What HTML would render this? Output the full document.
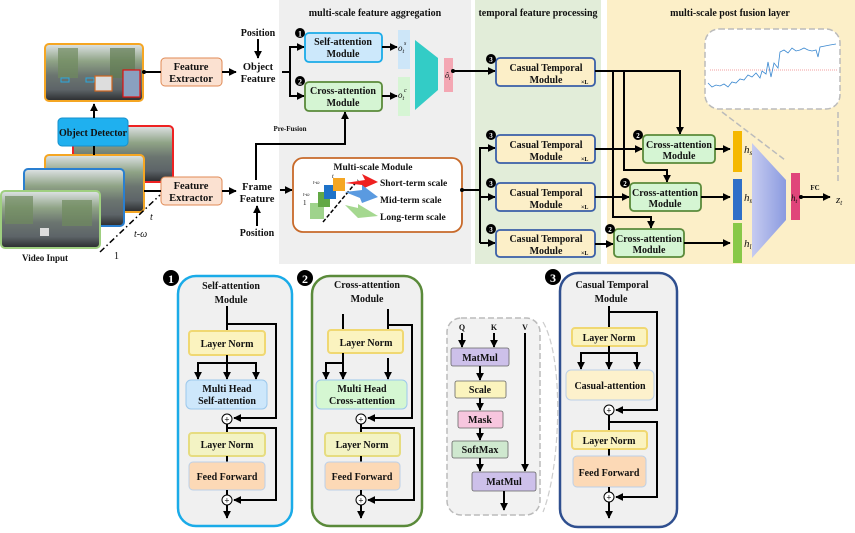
<!DOCTYPE html>
<html><head><meta charset="utf-8"><style>
html,body{margin:0;padding:0;background:#fff}
svg{display:block}
text{font-family:"Liberation Serif",serif;font-weight:bold;fill:#111}
.i{font-style:italic;font-weight:normal}
</style></head><body>
<svg width="855" height="533" viewBox="0 0 855 533" xmlns="http://www.w3.org/2000/svg">
<defs>
<marker id="a" viewBox="0 0 10 10" refX="9" refY="5" markerWidth="4" markerHeight="4" orient="auto-start-reverse"><path d="M0,0L10,5L0,10z" fill="#000"/></marker>
<linearGradient id="ph" x1="0" y1="0" x2="0" y2="1">
<stop offset="0" stop-color="#dfe3e6"/><stop offset="0.3" stop-color="#8fa386"/><stop offset="0.55" stop-color="#6b7570"/><stop offset="0.8" stop-color="#5d6468"/><stop offset="1" stop-color="#2a2c2e"/></linearGradient>
<linearGradient id="tp" x1="0" y1="0" x2="1" y2="0"><stop offset="0" stop-color="#c6cbf0"/><stop offset="1" stop-color="#8b9be0"/></linearGradient>
</defs>
<rect x="279" y="0" width="192" height="264" fill="#efefef"/>
<rect x="475" y="0" width="126" height="264" fill="#e2edd9"/>
<rect x="607" y="0" width="248" height="264" fill="#fcefc8"/>
<text x="375" y="16" font-size="10" text-anchor="middle">multi-scale feature aggregation</text>
<text x="538" y="16" font-size="10" text-anchor="middle">temporal feature processing</text>
<text x="730" y="16" font-size="10" text-anchor="middle">multi-scale post fusion layer</text>

<rect x="45" y="44" width="98" height="57" rx="4" fill="url(#ph)" stroke="#f5a623" stroke-width="2"/>
<rect x="58" y="48" width="20" height="30" fill="#6f8a5e" opacity="0.7"/>
<rect x="110" y="48" width="25" height="30" fill="#5f7a50" opacity="0.7"/>
<rect x="61" y="78" width="8" height="4" fill="none" stroke="#29a8e0" stroke-width="1"/>
<rect x="86" y="78" width="8" height="4" fill="none" stroke="#29a8e0" stroke-width="1"/>
<rect x="95" y="76" width="17" height="15" fill="#ddd" stroke="#d0661f" stroke-width="1.2"/>
<rect x="123" y="70" width="17" height="27" fill="#8aa0c0" stroke="#e01010" stroke-width="1.2"/>
<rect x="73" y="126" width="100" height="56" rx="4" fill="url(#ph)" stroke="#ee2222" stroke-width="2"/>
<rect x="45" y="155" width="99" height="57" rx="4" fill="url(#ph)" stroke="#f5a623" stroke-width="2"/>
<rect x="24" y="169" width="100" height="57" rx="4" fill="url(#ph)" stroke="#2a7fd0" stroke-width="2"/>
<rect x="1" y="191" width="99" height="57" rx="4" fill="url(#ph)" stroke="#9fcf80" stroke-width="2"/>
<rect x="5" y="196" width="28" height="28" fill="#6f8a5e" opacity="0.7"/>
<rect x="62" y="200" width="30" height="26" fill="#6f8a5e" opacity="0.7"/>
<rect x="40" y="228" width="9" height="8" fill="#ddd"/>
<text x="45" y="261" font-size="9" text-anchor="middle">Video Input</text>
<line x1="100" y1="252" x2="160" y2="195" stroke="#000" stroke-width="1.5" stroke-dasharray="6,3,1.5,3"/>
<text x="150" y="220" font-size="10" class="i">t</text>
<text x="134" y="237" font-size="10" class="i">t-ω</text>
<text x="114" y="259" font-size="10" style="font-weight:normal">1</text>
<rect x="58" y="118" width="70" height="28" rx="4" fill="#1fb0ef" stroke="#1690cc"/>
<text x="93" y="136" font-size="10" text-anchor="middle">Object Detector</text>
<line x1="94" y1="118" x2="94" y2="104" stroke="#000" stroke-width="2" marker-end="url(#a)"/>
<line x1="94" y1="146" x2="94" y2="155" stroke="#000" stroke-width="2"/>

<rect x="161" y="58" width="61" height="28" rx="4" fill="#fbe1d1" stroke="#e08a55"/>
<text x="191" y="70" font-size="10.5" text-anchor="middle">Feature</text><text x="191" y="82" font-size="10.5" text-anchor="middle">Extractor</text>
<rect x="161" y="177" width="61" height="28" rx="4" fill="#fbe1d1" stroke="#e08a55"/>
<text x="191" y="189" font-size="10.5" text-anchor="middle">Feature</text><text x="191" y="201" font-size="10.5" text-anchor="middle">Extractor</text>
<line x1="143" y1="72" x2="161" y2="72" stroke="#000" stroke-width="2"/><circle cx="144" cy="72" r="2"/>
<line x1="144" y1="191" x2="161" y2="191" stroke="#000" stroke-width="2"/>
<line x1="222" y1="72" x2="236" y2="72" stroke="#000" stroke-width="2" marker-end="url(#a)"/>
<line x1="222" y1="191" x2="236" y2="191" stroke="#000" stroke-width="2" marker-end="url(#a)"/>
<text x="258" y="36" font-size="10" text-anchor="middle">Position</text>
<line x1="258" y1="39" x2="258" y2="58" stroke="#000" stroke-width="2" marker-end="url(#a)"/>
<text x="258" y="70" font-size="10.5" text-anchor="middle">Object</text><text x="258" y="82" font-size="10.5" text-anchor="middle">Feature</text>
<text x="257" y="190" font-size="10.5" text-anchor="middle">Frame</text><text x="257" y="202" font-size="10.5" text-anchor="middle">Feature</text>
<text x="257" y="236" font-size="10" text-anchor="middle">Position</text>
<line x1="257" y1="226" x2="257" y2="206" stroke="#000" stroke-width="2" marker-end="url(#a)"/>
<polyline points="282,72 290,72" fill="none" stroke="#000" stroke-width="2"/>
<polyline points="290,96 290,47 304,47" fill="none" stroke="#000" stroke-width="2" marker-end="url(#a)"/>
<polyline points="290,72 290,96 304,96" fill="none" stroke="#000" stroke-width="2" marker-end="url(#a)"/>
<polyline points="256,180 256,144 345,144 345,112" fill="none" stroke="#000" stroke-width="2" marker-end="url(#a)"/>
<text x="290" y="131" font-size="7" text-anchor="middle">Pre-Fusion</text>
<line x1="280" y1="190" x2="292" y2="190" stroke="#000" stroke-width="2" marker-end="url(#a)"/>

<rect x="305" y="33" width="77" height="29" rx="4" fill="#cce8fb" stroke="#1aabe8" stroke-width="1.8"/>
<text x="343" y="45" font-size="10" text-anchor="middle">Self-attention</text><text x="343" y="57" font-size="10" text-anchor="middle">Module</text>
<rect x="305" y="82" width="77" height="29" rx="4" fill="#d5f5d3" stroke="#5a8a3a" stroke-width="1.8"/>
<text x="343" y="94" font-size="10" text-anchor="middle">Cross-attention</text><text x="343" y="106" font-size="10" text-anchor="middle">Module</text>
<circle cx="300" cy="33" r="5"/><text x="300" y="36.5" font-size="8" text-anchor="middle" style="fill:#fff">1</text>
<circle cx="300" cy="81" r="5"/><text x="300" y="84.5" font-size="8" text-anchor="middle" style="fill:#fff">2</text>
<line x1="382" y1="47" x2="397" y2="47" stroke="#000" stroke-width="2" marker-end="url(#a)"/>
<line x1="382" y1="96" x2="397" y2="96" stroke="#000" stroke-width="2" marker-end="url(#a)"/>
<rect x="398" y="30" width="12" height="39" fill="#cde6f8"/><text x="398" y="51" font-size="9" class="i">o<tspan font-size="6" dy="2">t</tspan></text><text x="404" y="45" font-size="6" class="i">s</text>
<rect x="398" y="77" width="12" height="39" fill="#d6f5d4"/><text x="398" y="98" font-size="9" class="i">o<tspan font-size="6" dy="2">t</tspan></text><text x="404" y="92" font-size="6" class="i">c</text>
<polygon points="415,40 438,58 438,90 415,110" fill="#33ccc6"/>
<rect x="444" y="58" width="9" height="34" fill="#f4a7b3"/><text x="445" y="78" font-size="8" class="i">ô<tspan font-size="5" dy="2">t</tspan></text>
<circle cx="453" cy="71" r="2"/>
<line x1="453" y1="71" x2="495" y2="71" stroke="#000" stroke-width="2" marker-end="url(#a)"/>

<rect x="293" y="158" width="169" height="74" rx="10" fill="#fff" stroke="#c86a2a" stroke-width="1.8"/>
<text x="373" y="170" font-size="9.5" text-anchor="middle">Multi-scale Module</text>
<rect x="310" y="203" width="14" height="16" fill="#9fd38c"/>
<rect x="318" y="192" width="12" height="15" fill="#62a845"/>
<rect x="324" y="185" width="12" height="14" fill="#1e72c8"/>
<rect x="333" y="178" width="12" height="13" fill="#f5a623"/>
<line x1="323" y1="222" x2="358" y2="180" stroke="#000" stroke-width="1.5" stroke-dasharray="4,2"/>
<polygon points="345,183 365,180 362,174 378,182 362,189 362,185" fill="#ee2020"/>
<polygon points="345,192 362,190 362,185 378,197 362,203 360,198" fill="#5a9ae0"/>
<polygon points="345,205 358,208 358,204 378,216 358,218" fill="#a5d890"/>
<text x="332" y="178" font-size="6" class="i">t</text>
<text x="313" y="184" font-size="5" class="i">t-ω</text>
<text x="303" y="196" font-size="5" class="i">t-ω</text>
<text x="303" y="205" font-size="7" style="font-weight:normal">1</text>
<text x="380" y="186" font-size="9.5">Short-term scale</text>
<text x="380" y="203" font-size="9.5">Mid-term scale</text>
<text x="380" y="220" font-size="9.5">Long-term scale</text>
<circle cx="462" cy="190" r="2"/>
<polyline points="462,190 480,190" fill="none" stroke="#000" stroke-width="2"/>
<polyline points="480,243 480,148 495,148" fill="none" stroke="#000" stroke-width="2" marker-end="url(#a)"/>
<line x1="480" y1="197" x2="495" y2="197" stroke="#000" stroke-width="2" marker-end="url(#a)"/>
<line x1="480" y1="243" x2="495" y2="243" stroke="#000" stroke-width="2" marker-end="url(#a)"/>

<rect x="496" y="58" width="99" height="28" rx="4" fill="#fcefc8" stroke="#3a5fa8" stroke-width="1.8"/>
<text x="546" y="71" font-size="10" text-anchor="middle">Casual Temporal</text><text x="546" y="83" font-size="10" text-anchor="middle">Module</text><text x="581" y="84" font-size="6">×L</text>
<rect x="496" y="135" width="99" height="28" rx="4" fill="#fcefc8" stroke="#3a5fa8" stroke-width="1.8"/>
<text x="546" y="148" font-size="10" text-anchor="middle">Casual Temporal</text><text x="546" y="160" font-size="10" text-anchor="middle">Module</text><text x="581" y="161" font-size="6">×L</text>
<rect x="496" y="183" width="99" height="28" rx="4" fill="#fcefc8" stroke="#3a5fa8" stroke-width="1.8"/>
<text x="546" y="196" font-size="10" text-anchor="middle">Casual Temporal</text><text x="546" y="208" font-size="10" text-anchor="middle">Module</text><text x="581" y="209" font-size="6">×L</text>
<rect x="496" y="230" width="99" height="27" rx="4" fill="#fcefc8" stroke="#3a5fa8" stroke-width="1.8"/>
<text x="546" y="242" font-size="10" text-anchor="middle">Casual Temporal</text><text x="546" y="254" font-size="10" text-anchor="middle">Module</text><text x="581" y="255" font-size="6">×L</text>
<circle cx="491" cy="59" r="5"/><text x="491" y="62" font-size="7" text-anchor="middle" style="fill:#fff">3</text>
<circle cx="491" cy="135" r="5"/><text x="491" y="138" font-size="7" text-anchor="middle" style="fill:#fff">3</text>
<circle cx="491" cy="183" r="5"/><text x="491" y="186" font-size="7" text-anchor="middle" style="fill:#fff">3</text>
<circle cx="491" cy="229" r="5"/><text x="491" y="232" font-size="7" text-anchor="middle" style="fill:#fff">3</text>
<polyline points="595,71 680,71 680,134" fill="none" stroke="#000" stroke-width="2" marker-end="url(#a)"/>
<polyline points="624,71 624,170 667,170 667,182" fill="none" stroke="#000" stroke-width="2" marker-end="url(#a)"/>
<polyline points="613,71 613,217 651,217 651,228" fill="none" stroke="#000" stroke-width="2" marker-end="url(#a)"/>
<line x1="595" y1="149" x2="642" y2="149" stroke="#000" stroke-width="2" marker-end="url(#a)"/>
<line x1="595" y1="197" x2="629" y2="197" stroke="#000" stroke-width="2" marker-end="url(#a)"/>
<line x1="595" y1="244" x2="613" y2="244" stroke="#000" stroke-width="2" marker-end="url(#a)"/>
<rect x="643" y="135" width="72" height="28" rx="4" fill="#d5f5d3" stroke="#5a8a3a" stroke-width="1.8"/>
<text x="679" y="148" font-size="10" text-anchor="middle">Cross-attention</text><text x="679" y="159" font-size="10" text-anchor="middle">Module</text>
<rect x="630" y="183" width="71" height="28" rx="4" fill="#d5f5d3" stroke="#5a8a3a" stroke-width="1.8"/>
<text x="665" y="196" font-size="10" text-anchor="middle">Cross-attention</text><text x="665" y="207" font-size="10" text-anchor="middle">Module</text>
<rect x="614" y="229" width="70" height="28" rx="4" fill="#d5f5d3" stroke="#5a8a3a" stroke-width="1.8"/>
<text x="649" y="242" font-size="10" text-anchor="middle">Cross-attention</text><text x="649" y="253" font-size="10" text-anchor="middle">Module</text>
<circle cx="638" cy="135" r="5"/><text x="638" y="138" font-size="7" text-anchor="middle" style="fill:#fff">2</text>
<circle cx="625" cy="183" r="5"/><text x="625" y="186" font-size="7" text-anchor="middle" style="fill:#fff">2</text>
<circle cx="610" cy="229" r="5"/><text x="610" y="232" font-size="7" text-anchor="middle" style="fill:#fff">2</text>
<line x1="715" y1="149" x2="730" y2="149" stroke="#000" stroke-width="2" marker-end="url(#a)"/>
<line x1="701" y1="197" x2="730" y2="197" stroke="#000" stroke-width="2" marker-end="url(#a)"/>
<line x1="684" y1="243" x2="730" y2="243" stroke="#000" stroke-width="2" marker-end="url(#a)"/>
<rect x="733" y="131" width="9" height="41" fill="#f5b800"/>
<rect x="733" y="179" width="9" height="41" fill="#2f6fc8"/>
<rect x="733" y="223" width="9" height="40" fill="#88c848"/>
<text x="744" y="153" font-size="11" class="i">h<tspan font-size="7" dy="2">s,t</tspan></text>
<text x="744" y="201" font-size="11" class="i">h<tspan font-size="7" dy="2">m,t</tspan></text>
<text x="744" y="247" font-size="11" class="i">h<tspan font-size="7" dy="2">l,t</tspan></text>
<polygon points="752,143 786,180 786,220 752,258" fill="url(#tp)"/>
<rect x="791" y="173" width="9" height="47" fill="#e0457a"/>
<text x="791" y="201" font-size="9" class="i">h<tspan font-size="6" dy="2">t</tspan></text>
<circle cx="801" cy="197" r="2"/>
<line x1="801" y1="197" x2="830" y2="197" stroke="#000" stroke-width="2" marker-end="url(#a)"/>
<text x="815" y="190" font-size="7" text-anchor="middle">FC</text>
<text x="836" y="203" font-size="11" class="i">z<tspan font-size="7" dy="2">t</tspan></text>
<rect x="705" y="29" width="135" height="80" rx="14" fill="#fff" stroke="#bbb" stroke-width="1.5" stroke-dasharray="6,3"/>
<line x1="710" y1="70" x2="837" y2="70" stroke="#f08080" stroke-width="0.7" stroke-dasharray="1,1"/>
<polyline points="708,83 712,87 716,85 720,86 724,84 728,87 732,82 736,83 740,79 744,80 748,75 752,77 756,73 760,78 762,71 766,74 768,62 771,77 774,63 778,68 780,52 784,50 788,53 792,48 796,51 800,50 804,48 808,50 812,51 816,50 818,57 820,47 825,46 830,45 836,44" fill="none" stroke="#3a88d0" stroke-width="0.8"/>
<line x1="722" y1="112" x2="785" y2="160" stroke="#bbb" stroke-width="1.5" stroke-dasharray="6,3"/>
<line x1="838" y1="112" x2="838" y2="182" stroke="#bbb" stroke-width="1.5" stroke-dasharray="6,3"/>

<g stroke-width="2">
<rect x="178" y="276" width="114" height="250" rx="18" fill="#f0f0f0" stroke="#1aabe8" stroke-width="2.5"/>
<circle cx="171" cy="278" r="8"/><text x="171" y="283" font-size="12" text-anchor="middle" style="fill:#fff">1</text>
<text x="231" y="289" font-size="10" text-anchor="middle">Self-attention</text><text x="231" y="303" font-size="10" text-anchor="middle">Module</text>
<polyline points="227,306 227,324 276,324 276,418 234,418" fill="none" stroke="#000" marker-end="url(#a)"/>
<line x1="227" y1="324" x2="227" y2="332" stroke="#000"/>
<rect x="189" y="331" width="76" height="24" rx="3" fill="#fbf3bf" stroke="#f0d872"/>
<text x="227" y="347" font-size="10" text-anchor="middle">Layer Norm</text>
<polyline points="227,355 227,379" fill="none" stroke="#000" marker-end="url(#a)"/>
<polyline points="198,379 198,363 256,363 256,379" fill="none" stroke="#000"/>
<line x1="198" y1="366" x2="198" y2="379" stroke="#000" marker-end="url(#a)"/>
<line x1="256" y1="366" x2="256" y2="379" stroke="#000" marker-end="url(#a)"/>
<rect x="186" y="380" width="81" height="29" rx="5" fill="#cde7fb" stroke="#9cc8ec" stroke-width="1"/>
<text x="227" y="392" font-size="10" text-anchor="middle">Multi Head</text><text x="227" y="404" font-size="10" text-anchor="middle">Self-attention</text>
<circle cx="227" cy="419" r="5" fill="#fff" stroke="#000" stroke-width="1"/><text x="227" y="422.5" font-size="9" text-anchor="middle">+</text>
<polyline points="227,424 227,433" stroke="#000"/>
<polyline points="227,428 276,428 276,500 234,500" fill="none" stroke="#000" marker-end="url(#a)"/>
<rect x="189" y="433" width="76" height="23" rx="3" fill="#f3f3c4" stroke="#e6dc80"/>
<text x="227" y="448" font-size="10" text-anchor="middle">Layer Norm</text>
<line x1="227" y1="456" x2="227" y2="462" stroke="#000"/>
<rect x="189" y="462" width="76" height="28" rx="4" fill="#fcd9b6" stroke="#bcd0e8" stroke-width="1"/>
<text x="227" y="480" font-size="10" text-anchor="middle">Feed Forward</text>
<line x1="227" y1="490" x2="227" y2="495" stroke="#000"/>
<circle cx="227" cy="500" r="5" fill="#fff" stroke="#000" stroke-width="1"/><text x="227" y="503.5" font-size="9" text-anchor="middle">+</text>
<line x1="227" y1="505" x2="227" y2="518" stroke="#000" marker-end="url(#a)"/>

<rect x="312" y="276" width="110" height="250" rx="18" fill="#f0f0f0" stroke="#5a8a3a" stroke-width="2.5"/>
<circle cx="305" cy="278" r="8"/><text x="305" y="283" font-size="12" text-anchor="middle" style="fill:#fff">2</text>
<text x="367" y="288" font-size="10" text-anchor="middle">Cross-attention</text><text x="367" y="302" font-size="10" text-anchor="middle">Module</text>
<line x1="343" y1="314" x2="343" y2="330" stroke="#000"/>
<polyline points="388,309 388,325 412,325 412,418 368,418" fill="none" stroke="#000" marker-end="url(#a)"/>
<line x1="388" y1="325" x2="388" y2="330" stroke="#000"/>
<rect x="328" y="330" width="75" height="23" rx="3" fill="#fbf3bf" stroke="#f0d872"/>
<text x="366" y="346" font-size="10" text-anchor="middle">Layer Norm</text>
<line x1="343" y1="353" x2="343" y2="379" stroke="#000" marker-end="url(#a)"/>
<polyline points="343,363 326,363 326,379" fill="none" stroke="#000" marker-end="url(#a)"/>
<line x1="388" y1="358" x2="388" y2="379" stroke="#000" marker-end="url(#a)"/>
<rect x="316" y="380" width="91" height="29" rx="5" fill="#d5f7d2" stroke="#9cc8ec" stroke-width="1"/>
<text x="362" y="392" font-size="10" text-anchor="middle">Multi Head</text><text x="362" y="404" font-size="10" text-anchor="middle">Cross-attention</text>
<circle cx="361" cy="419" r="5" fill="#fff" stroke="#000" stroke-width="1"/><text x="361" y="422.5" font-size="9" text-anchor="middle">+</text>
<line x1="361" y1="424" x2="361" y2="433" stroke="#000"/>
<polyline points="361,428 414,428 414,500 368,500" fill="none" stroke="#000" marker-end="url(#a)"/>
<rect x="325" y="433" width="75" height="23" rx="3" fill="#f3f3c4" stroke="#e6dc80"/>
<text x="362" y="448" font-size="10" text-anchor="middle">Layer Norm</text>
<line x1="361" y1="456" x2="361" y2="462" stroke="#000"/>
<rect x="325" y="462" width="75" height="28" rx="4" fill="#fcd9b6" stroke="#bcd0e8" stroke-width="1"/>
<text x="362" y="480" font-size="10" text-anchor="middle">Feed Forward</text>
<line x1="361" y1="490" x2="361" y2="495" stroke="#000"/>
<circle cx="361" cy="500" r="5" fill="#fff" stroke="#000" stroke-width="1"/><text x="361" y="503.5" font-size="9" text-anchor="middle">+</text>
<line x1="361" y1="505" x2="361" y2="518" stroke="#000" marker-end="url(#a)"/>

<rect x="447" y="318" width="93" height="197" rx="14" fill="#f2f2f2" stroke="#bbb" stroke-width="1.5" stroke-dasharray="6,3"/>
<path d="M543,322 C565,360 560,470 543,512" fill="none" stroke="#ccc" stroke-width="1.2" stroke-dasharray="6,3"/>
<text x="462" y="330" font-size="8" text-anchor="middle">Q</text>
<text x="494" y="330" font-size="8" text-anchor="middle">K</text>
<text x="525" y="330" font-size="8" text-anchor="middle">V</text>
<line x1="462" y1="333" x2="462" y2="347" stroke="#000" marker-end="url(#a)"/>
<line x1="494" y1="333" x2="494" y2="347" stroke="#000" marker-end="url(#a)"/>
<line x1="525" y1="333" x2="525" y2="471" stroke="#000" marker-end="url(#a)"/>
<rect x="451" y="348" width="58" height="18" rx="2" fill="#cdc0ea" stroke="#666" stroke-width="0.8"/>
<text x="480" y="361" font-size="10" text-anchor="middle">MatMul</text>
<line x1="480" y1="366" x2="480" y2="380" stroke="#000" marker-end="url(#a)"/>
<rect x="455" y="381" width="51" height="17" rx="2" fill="#fbf4be" stroke="#666" stroke-width="0.8"/>
<text x="480" y="393" font-size="10" text-anchor="middle">Scale</text>
<line x1="480" y1="398" x2="480" y2="410" stroke="#000" marker-end="url(#a)"/>
<rect x="458" y="411" width="45" height="17" rx="2" fill="#f7c6de" stroke="#666" stroke-width="0.8"/>
<text x="480" y="423" font-size="10" text-anchor="middle">Mask</text>
<line x1="480" y1="428" x2="480" y2="440" stroke="#000" marker-end="url(#a)"/>
<rect x="452" y="441" width="56" height="17" rx="2" fill="#cfe8cf" stroke="#666" stroke-width="0.8"/>
<text x="480" y="453" font-size="10" text-anchor="middle">SoftMax</text>
<line x1="480" y1="458" x2="480" y2="471" stroke="#000" marker-end="url(#a)"/>
<rect x="472" y="472" width="64" height="19" rx="2" fill="#cdc0ea" stroke="#666" stroke-width="0.8"/>
<text x="504" y="485" font-size="10" text-anchor="middle">MatMul</text>
<line x1="504" y1="491" x2="504" y2="510" stroke="#000" marker-end="url(#a)"/>

<rect x="560" y="273" width="117" height="254" rx="18" fill="#f0f0f0" stroke="#2f4f8f" stroke-width="2.5"/>
<circle cx="553" cy="277" r="8"/><text x="553" y="282" font-size="12" text-anchor="middle" style="fill:#fff">3</text>
<text x="612" y="288" font-size="10" text-anchor="middle">Casual Temporal</text><text x="611" y="302" font-size="10" text-anchor="middle">Module</text>
<polyline points="609,306 609,312 657,312 657,410 616,410" fill="none" stroke="#000" marker-end="url(#a)"/>
<line x1="609" y1="312" x2="609" y2="328" stroke="#000"/>
<rect x="572" y="328" width="75" height="18" rx="3" fill="#fbf3bf" stroke="#f0d872"/>
<text x="609" y="341" font-size="10" text-anchor="middle">Layer Norm</text>
<line x1="609" y1="346" x2="609" y2="369" stroke="#000" marker-end="url(#a)"/>
<polyline points="581,369 581,353 637,353 637,369" fill="none" stroke="#000"/>
<line x1="581" y1="356" x2="581" y2="369" stroke="#000" marker-end="url(#a)"/>
<line x1="637" y1="356" x2="637" y2="369" stroke="#000" marker-end="url(#a)"/>
<rect x="566" y="370" width="88" height="30" rx="5" fill="#fdf1cc" stroke="#bcd0e8" stroke-width="1"/>
<text x="610" y="389" font-size="10" text-anchor="middle">Casual-attention</text>
<circle cx="609" cy="410" r="5" fill="#fff" stroke="#000" stroke-width="1"/><text x="609" y="413.5" font-size="9" text-anchor="middle">+</text>
<line x1="609" y1="415" x2="609" y2="431" stroke="#000"/>
<polyline points="609,422 657,422 657,497 616,497" fill="none" stroke="#000" marker-end="url(#a)"/>
<rect x="572" y="431" width="75" height="18" rx="3" fill="#fbf3bf" stroke="#f0d872"/>
<text x="609" y="444" font-size="10" text-anchor="middle">Layer Norm</text>
<line x1="609" y1="449" x2="609" y2="456" stroke="#000"/>
<rect x="573" y="456" width="73" height="31" rx="4" fill="#fcd9b6" stroke="#bcd0e8" stroke-width="1"/>
<text x="609" y="476" font-size="10" text-anchor="middle">Feed Forward</text>
<line x1="609" y1="487" x2="609" y2="492" stroke="#000"/>
<circle cx="609" cy="497" r="5" fill="#fff" stroke="#000" stroke-width="1"/><text x="609" y="500.5" font-size="9" text-anchor="middle">+</text>
<line x1="609" y1="502" x2="609" y2="518" stroke="#000" marker-end="url(#a)"/>
</g>
</svg>
</body></html>
